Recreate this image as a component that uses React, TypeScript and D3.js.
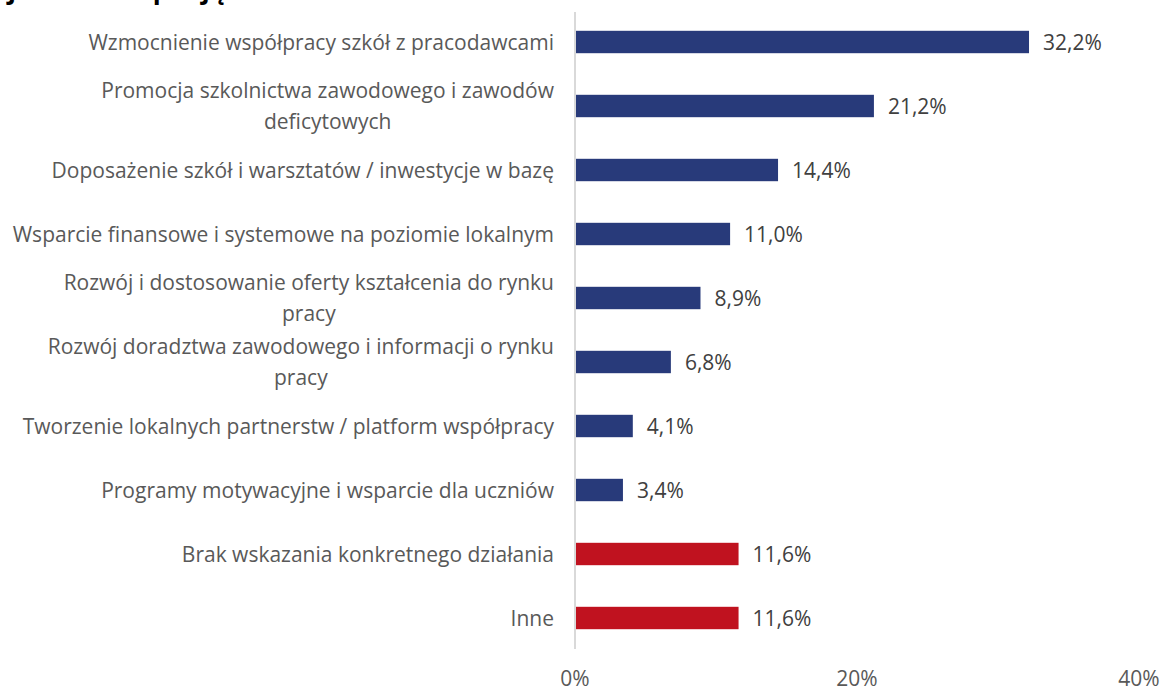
import React, { useEffect, useRef } from "react";
import * as d3 from "d3";

const titleText = "jakie kroki podjąć";
const categories = [
  "Wzmocnienie współpracy szkół z pracodawcami",
  "Promocja szkolnictwa zawodowego i zawodów\ndeficytowych",
  "Doposażenie szkół i warsztatów / inwestycje w bazę",
  "Wsparcie finansowe i systemowe na poziomie lokalnym",
  "Rozwój i dostosowanie oferty kształcenia do rynku\npracy",
  "Rozwój doradztwa zawodowego i informacji o rynku\npracy",
  "Tworzenie lokalnych partnerstw / platform współpracy",
  "Programy motywacyjne i wsparcie dla uczniów",
  "Brak wskazania konkretnego działania",
  "Inne",
];
const values = [32.2, 21.2, 14.4, 11.0, 8.9, 6.8, 4.1, 3.4, 11.6, 11.6];
const groups = ["a", "a", "a", "a", "a", "a", "a", "a", "b", "b"];
const xTicks = [0, 20, 40];

const W = 1163;
const H = 691;
const FONT = "'Open Sans', Lato, sans-serif";
const FS = 21;

export default function App() {
  const ref = useRef<SVGSVGElement>(null);

  useEffect(() => {
    const svg = d3.select(ref.current);
    svg.selectAll("*").remove();

    const x = d3.scaleLinear().domain([0, 40]).range([575, 1139]);
    const y = d3
      .scaleBand<string>()
      .domain(categories)
      .range([10, 650])
      .paddingInner(0.65)
      .paddingOuter(0.325);
    const color = d3.scaleOrdinal<string, string>().domain(["a", "b"]).range(["#283a7a", "#c0121f"]);

    // title (clipped at top, as in the reference)
    svg
      .append("text")
      .attr("x", 8)
      .attr("y", -1)
      .attr("font-family", FONT)
      .attr("font-weight", 700)
      .attr("font-size", 26)
      .attr("fill", "#000")
      .text(titleText);

    // axis line
    svg
      .append("line")
      .attr("x1", x(0))
      .attr("x2", x(0))
      .attr("y1", 12)
      .attr("y2", 649)
      .attr("stroke", "#d9d9d9")
      .attr("stroke-width", 2);

    const data = categories.map((c, i) => ({ c, v: values[i], g: groups[i] }));

    svg
      .append("g")
      .selectAll("rect")
      .data(data)
      .join("rect")
      .attr("x", x(0) + 1)
      .attr("y", (d) => y(d.c)!)
      .attr("width", (d) => x(d.v) - x(0) - 1)
      .attr("height", y.bandwidth())
      .attr("fill", (d) => color(d.g));

    // value labels
    svg
      .append("g")
      .selectAll("text")
      .data(data)
      .join("text")
      .attr("x", (d) => x(d.v) + 14)
      .attr("y", (d) => y(d.c)! + y.bandwidth() / 2)
      .attr("dy", "0.36em")
      .attr("font-family", FONT)
      .attr("font-size", FS)
      .attr("fill", "#404040")
      .text((d) => d.v.toFixed(1).replace(".", ",") + "%");

    // category labels
    const labelRight = 554;
    const lineH = 31;
    const lg = svg.append("g");
    data.forEach((d) => {
      const lines = d.c.split("\n");
      const cy = y(d.c)! + y.bandwidth() / 2;
      const texts = lines.map((ln, k) =>
        lg
          .append("text")
          .attr("y", cy + (k - (lines.length - 1) / 2) * lineH)
          .attr("dy", "0.36em")
          .attr("font-family", FONT)
          .attr("font-size", FS)
          .attr("fill", "#595959")
          .text(ln)
      );
      const widths = texts.map((t) => (t.node() as SVGTextElement).getComputedTextLength());
      const maxW = Math.max(...widths);
      const center = labelRight - maxW / 2;
      texts.forEach((t) => t.attr("x", center).attr("text-anchor", "middle"));
    });

    // x tick labels
    svg
      .append("g")
      .selectAll("text")
      .data(xTicks)
      .join("text")
      .attr("x", (d) => x(d))
      .attr("y", 686)
      .attr("text-anchor", "middle")
      .attr("font-family", FONT)
      .attr("font-size", FS)
      .attr("fill", "#595959")
      .text((d) => d + "%");
  }, []);

  return (
    <svg
      ref={ref}
      width={W}
      height={H}
      style={{ position: "absolute", left: 0, top: 0, background: "#fff" }}
    />
  );
}
